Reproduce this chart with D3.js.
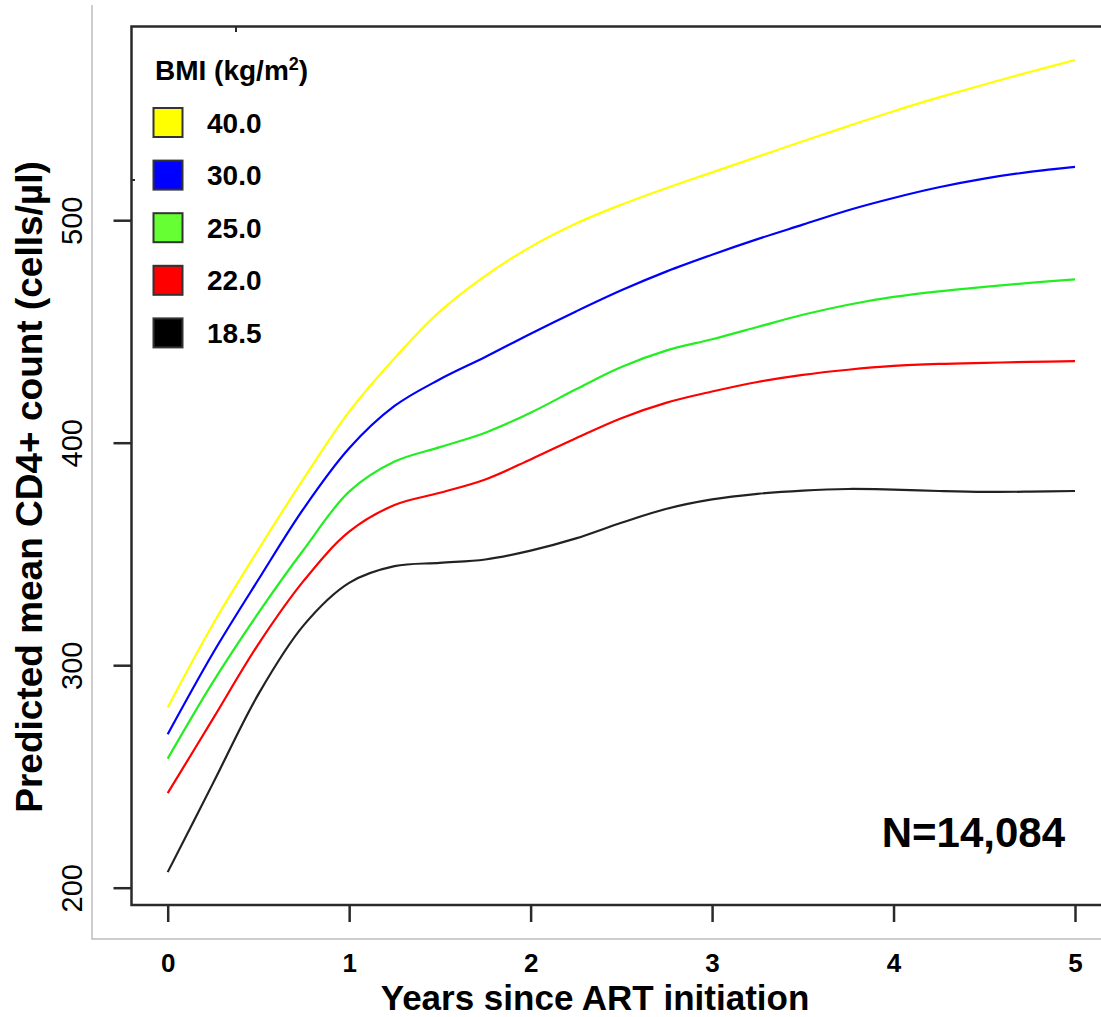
<!DOCTYPE html>
<html>
<head>
<meta charset="utf-8">
<script src="https://cdn.jsdelivr.net/npm/d3@7"></script>
<style>
  html, body { margin: 0; padding: 0; background: #fff; }
  svg { display: block; font-family: "Liberation Sans", Arial, Helvetica, sans-serif; }
</style>
</head>
<body>
<svg id="chart" width="1101" height="1017"></svg>
<script>
// Years since ART initiation, every quarter year
const years = [0, 0.25, 0.5, 0.75, 1, 1.25, 1.5, 1.75, 2, 2.25, 2.5,
               2.75, 3, 3.25, 3.5, 3.75, 4, 4.25, 4.5, 4.75, 5];

// Predicted mean CD4+ count (cells/µl) per BMI level
const bmi400 = [281, 318.5, 352, 384, 414, 438, 459, 475, 488, 498.5, 507,
                514.5, 521.5, 528.5, 535.5, 542.3, 549, 555.2, 561, 566.6, 572];
const bmi300 = [269, 305.5, 338.5, 370.5, 397.5, 416.5, 428.5, 438.5, 449, 459, 468.5,
                477, 484.5, 491.5, 498, 504.5, 510, 514.8, 518.7, 521.7, 524];
const bmi250 = [258, 292.5, 323.5, 352, 378, 391.5, 398, 404.5, 413.5, 424, 434,
                441.5, 446.5, 452, 457.5, 462, 465.5, 468, 470, 471.8, 473.4];
const bmi220 = [242.5, 276, 309.5, 338, 360, 372, 377.5, 383.5, 392.5, 402, 411,
                418, 423, 427.3, 430.5, 432.8, 434.5, 435.4, 435.9, 436.3, 436.7];
const bmi185 = [207, 247, 287, 318, 337, 344.5, 346, 347.5, 351.5, 357, 364,
                370.3, 374.5, 377, 378.5, 379.2, 378.9, 378.3, 377.9, 378, 378.3];

const seriesLabels = ["40.0", "30.0", "25.0", "22.0", "18.5"];
const seriesValues = [bmi400, bmi300, bmi250, bmi220, bmi185];

const yTicks = [200, 300, 400, 500];
const xTicks = [0, 1, 2, 3, 4, 5];

// Drawing styles
const lineColors = ["#ffff00", "#0000ff", "#22ee22", "#ff0000", "#222222"];
const boxColors  = ["#ffff00", "#0000ff", "#66ff33", "#ff0000", "#000000"];

const svg = d3.select("#chart");

const x = d3.scaleLinear().domain([0, 5]).range([167.7, 1075]);
const y = d3.scaleLinear().domain([200, 500]).range([887.7, 220.2]);

const box = { left: 131.5, top: 26.5, bottom: 905, right: 1115 };

// Outer light frame
svg.append("path")
  .attr("d", `M92,5 V939 H1101`)
  .attr("fill", "none")
  .attr("stroke", "#bdbdbd")
  .attr("stroke-width", 1.5);

// Plot frame
svg.append("rect")
  .attr("x", box.left).attr("y", box.top)
  .attr("width", box.right - box.left).attr("height", box.bottom - box.top)
  .attr("fill", "none")
  .attr("stroke", "#2a2a2a")
  .attr("stroke-width", 2.5);

// Small stray ticks on the frame
svg.append("line").attr("x1", 236).attr("x2", 236).attr("y1", box.top).attr("y2", 32)
  .attr("stroke", "#2a2a2a").attr("stroke-width", 2);
svg.append("line").attr("x1", box.left).attr("x2", 135).attr("y1", 180).attr("y2", 180)
  .attr("stroke", "#2a2a2a").attr("stroke-width", 2);

// Y axis
const yAxis = svg.append("g")
  .attr("transform", `translate(${box.left},0)`)
  .call(d3.axisLeft(y).tickValues(yTicks).tickSize(18).tickFormat(d3.format("d")));
yAxis.select(".domain").remove();
yAxis.selectAll(".tick line").attr("stroke", "#2a2a2a").attr("stroke-width", 2.5);
yAxis.selectAll(".tick text")
  .attr("x", null).attr("dy", null)
  .attr("transform", "translate(-49.5,0) rotate(-90)")
  .attr("text-anchor", "middle")
  .attr("fill", "#000")
  .style("font-size", "29px")
  .style("font-family", "\"Liberation Sans\", Arial, sans-serif");

// X axis
const xAxis = svg.append("g")
  .attr("transform", `translate(0,${box.bottom})`)
  .call(d3.axisBottom(x).tickValues(xTicks).tickSize(17).tickFormat(d3.format("d")));
xAxis.select(".domain").remove();
xAxis.selectAll(".tick line").attr("stroke", "#2a2a2a").attr("stroke-width", 2.5);
xAxis.selectAll(".tick text")
  .attr("y", 67).attr("dy", null)
  .attr("fill", "#000")
  .style("font-size", "26px")
  .style("font-weight", "bold")
  .style("font-family", "\"Liberation Sans\", Arial, sans-serif");

// Axis titles
svg.append("text")
  .attr("transform", "translate(42,487) rotate(-90)")
  .attr("text-anchor", "middle")
  .style("font-size", "37px").style("font-weight", "bold")
  .text("Predicted mean CD4+ count (cells/µl)");

svg.append("text")
  .attr("x", 595).attr("y", 1010)
  .attr("text-anchor", "middle")
  .style("font-size", "35px").style("font-weight", "bold")
  .text("Years since ART initiation");

// Curves
const line = d3.line()
  .x((d, i) => x(years[i]))
  .y(d => y(d))
  .curve(d3.curveCatmullRom.alpha(0.5));

svg.append("g").selectAll("path")
  .data(seriesValues)
  .join("path")
  .attr("d", d => line(d))
  .attr("fill", "none")
  .attr("stroke", (d, i) => lineColors[i])
  .attr("stroke-width", 2.2);

// Legend
const legend = svg.append("g");
const title = legend.append("text")
  .attr("x", 155).attr("y", 80)
  .style("font-size", "28px").style("font-weight", "bold");
title.append("tspan").text("BMI (kg/m");
title.append("tspan").attr("dy", -10).style("font-size", "18px").text("2");
title.append("tspan").attr("dy", 10).text(")");

const items = legend.selectAll("g.item")
  .data(seriesLabels)
  .join("g")
  .attr("class", "item")
  .attr("transform", (d, i) => `translate(0,${122.5 + i * 52.6})`);

items.append("rect")
  .attr("x", 153.5).attr("y", -14.5)
  .attr("width", 29).attr("height", 29)
  .attr("fill", (d, i) => boxColors[i])
  .attr("stroke", "#333")
  .attr("stroke-width", 2);

items.append("text")
  .attr("x", 207).attr("y", 10)
  .style("font-size", "28px").style("font-weight", "bold")
  .text(d => d);

// Sample size
svg.append("text")
  .attr("x", 1065).attr("y", 847)
  .attr("text-anchor", "end")
  .style("font-size", "42px").style("font-weight", "bold")
  .text("N=14,084");
</script>
</body>
</html>
